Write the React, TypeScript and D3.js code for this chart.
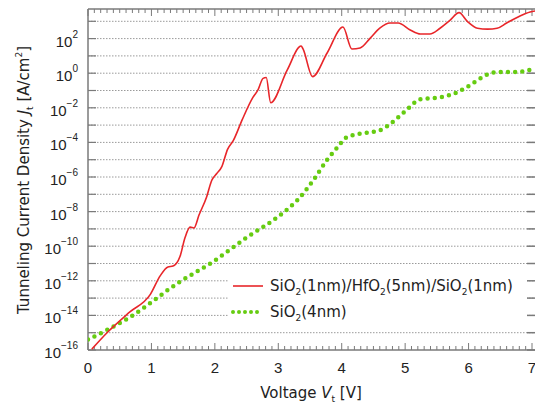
import React from 'react';
import * as d3 from 'd3';

// SiO2(1nm)/HfO2(5nm)/SiO2(1nm) stack
const redV = [0.06, 0.3, 0.66, 0.98, 1.14, 1.26, 1.34, 1.45, 1.53, 1.61, 1.67, 1.75, 1.87, 1.95, 2.03, 2.11, 2.2, 2.29, 2.43, 2.6, 2.68, 2.76, 2.81, 2.88, 3.14, 3.36, 3.39, 3.54, 3.77, 4.02, 4.16, 4.29, 4.45, 4.6, 4.76, 4.89, 5.08, 5.24, 5.39, 5.55, 5.71, 5.85, 5.98, 6.14, 6.3, 6.45, 6.6, 6.78, 6.97, 7.05];
const redLogJ = [-15.95, -15.0, -13.8, -12.8, -11.7, -11.2, -11.15, -10.6, -9.5, -8.9, -8.95, -8.2, -7.15, -6.2, -5.8, -5.4, -4.4, -3.9, -2.7, -1.4, -0.97, -0.3, -0.25, -1.7, 0.18, 1.57, 1.4, -0.2, 1.17, 2.67, 1.4, 1.46, 2.03, 2.6, 2.9, 2.9, 2.5, 2.27, 2.27, 2.6, 3.07, 3.5, 3.0, 2.6, 2.55, 2.6, 2.9, 3.25, 3.54, 3.6];

// SiO2(4nm)
const greenV = [0.0, 0.66, 1.45, 1.97, 2.5, 3.03, 3.31, 3.55, 3.77, 3.93, 4.08, 4.29, 4.6, 4.81, 5.03, 5.24, 5.55, 5.82, 6.02, 6.28, 6.45, 6.77, 7.05];
const greenLogJ = [-15.4, -14.1, -12.05, -10.9, -9.5, -8.2, -7.3, -6.2, -5.0, -4.3, -3.7, -3.5, -3.3, -2.8, -2.1, -1.5, -1.4, -1.1, -0.7, -0.1, 0.07, 0.07, 0.3];

const xTicks = [0, 1, 2, 3, 4, 5, 6, 7];
const yLabelExps = [-16, -14, -12, -10, -8, -6, -4, -2, 0, 2];

const W = 535;
const H = 408;
const left = 88;
const right = 532;
const top = 9;
const bottom = 350;

const font = '"Liberation Sans", Arial, sans-serif';
const titleFont = '"DejaVu Sans", sans-serif';
const axisColor = '#7a7a7a';
const textColor = '#222';

export default function App() {
  const x = d3.scaleLinear().domain([0, 7]).range([left, right]);
  const y = d3.scaleLinear().domain([-16, -16 + (bottom - top) / 17.3]).range([bottom, top]);

  const redPts: [number, number][] = redV.map((v, i) => [v, redLogJ[i]]);
  const greenPts: [number, number][] = greenV.map((v, i) => [v, greenLogJ[i]]);

  const redLine = d3.line<[number, number]>()
    .x((d) => x(d[0]))
    .y((d) => y(d[1]))
    .curve(d3.curveMonotoneX);
  const greenLine = d3.line<[number, number]>()
    .x((d) => x(d[0]))
    .y((d) => y(d[1]))
    .curve(d3.curveMonotoneX);

  const decades = d3.range(-16, 4);
  const minor = d3.range(0, 71).map((i) => i / 10);

  return (
    <svg width={W} height={H} style={{ position: 'absolute', left: 0, top: 0, background: '#fff' }}>
      <defs>
        <clipPath id="plot">
          <rect x={left} y={top} width={W - left} height={bottom - top} />
        </clipPath>
      </defs>

      {/* gridlines and y ticks */}
      {decades.map((e) => (
        <g key={e}>
          {e > -16 && (
            <line x1={left} x2={W} y1={y(e)} y2={y(e)} stroke="#9a9a9a" strokeWidth={1} strokeDasharray="1.5,1.5" />
          )}
          <line x1={left} x2={left + 8} y1={y(e)} y2={y(e)} stroke={axisColor} strokeWidth={1.2} />
          <line x1={W - 8} x2={W} y1={y(e)} y2={y(e)} stroke={axisColor} strokeWidth={1.5} />
        </g>
      ))}

      {/* legend background */}
      <rect x={228} y={268} width={299} height={57} fill="#fff" />

      {/* x minor/major ticks */}
      {minor.map((v, i) => {
        const major = i % 10 === 0;
        const len = major ? 7 : 4;
        return (
          <g key={i}>
            <line x1={x(v)} x2={x(v)} y1={bottom} y2={bottom - len} stroke={axisColor} strokeWidth={1} />
            <line x1={x(v)} x2={x(v)} y1={top} y2={top + len} stroke={axisColor} strokeWidth={1} />
          </g>
        );
      })}

      {/* frame */}
      <line x1={left} x2={left} y1={top} y2={bottom} stroke={axisColor} strokeWidth={1.5} />
      <line x1={left} x2={W} y1={top} y2={top} stroke={axisColor} strokeWidth={1.5} />
      <line x1={left} x2={W} y1={bottom} y2={bottom} stroke={axisColor} strokeWidth={1.5} />

      {/* series */}
      <g clipPath="url(#plot)">
        <path d={greenLine(greenPts) || ''} fill="none" stroke="#66cc11" strokeWidth={4.5}
          strokeLinecap="round" strokeDasharray="0,7.2" />
        <path d={redLine(redPts) || ''} fill="none" stroke="#e8262a" strokeWidth={1.6} strokeLinejoin="round" />
      </g>

      {/* y tick labels */}
      {yLabelExps.map((e) => (
        <text key={e} x={78} y={y(e) + 8} textAnchor="end" fontFamily={font} fontSize={15} fill={textColor}>
          10<tspan dy={-9} fontSize={10}>{e < 0 ? '\u2212' + Math.abs(e) : e}</tspan>
        </text>
      ))}

      {/* x tick labels */}
      {xTicks.map((v) => (
        <text key={v} x={x(v)} y={373} textAnchor="middle" fontFamily={font} fontSize={15} fill={textColor}>
          {v}
        </text>
      ))}

      {/* axis titles */}
      <text x={311} y={398} textAnchor="middle" fontFamily={titleFont} fontSize={15} fill={textColor}>
        Voltage <tspan fontStyle="italic">V</tspan><tspan fontSize={9} dy={4}>t</tspan><tspan dy={-4}> [V]</tspan>
      </text>
      <text transform="translate(29,180) rotate(-90)" textAnchor="middle" fontFamily={titleFont} fontSize={15} fill={textColor}>
        Tunneling Current Density <tspan fontStyle="italic">J</tspan><tspan fontSize={9} dy={4}>t</tspan>
        <tspan dy={-4}> [A/cm</tspan><tspan fontSize={9} dy={-7}>2</tspan><tspan dy={7}>]</tspan>
      </text>

      {/* legend */}
      <line x1={233} x2={263} y1={286} y2={286} stroke="#e8262a" strokeWidth={1.6} />
      <text x={270} y={291} fontFamily={titleFont} fontSize={15} fill={textColor}>
        SiO<tspan fontSize={9} dy={4}>2</tspan><tspan dy={-4}>(1nm)/HfO</tspan><tspan fontSize={9} dy={4}>2</tspan>
        <tspan dy={-4}>(5nm)/SiO</tspan><tspan fontSize={9} dy={4}>2</tspan><tspan dy={-4}>(1nm)</tspan>
      </text>
      <line x1={233} x2={262} y1={312} y2={312} stroke="#66cc11" strokeWidth={4} strokeLinecap="round" strokeDasharray="0,6" />
      <text x={270} y={317} fontFamily={titleFont} fontSize={15} fill={textColor}>
        SiO<tspan fontSize={9} dy={4}>2</tspan><tspan dy={-4}>(4nm)</tspan>
      </text>
    </svg>
  );
}
